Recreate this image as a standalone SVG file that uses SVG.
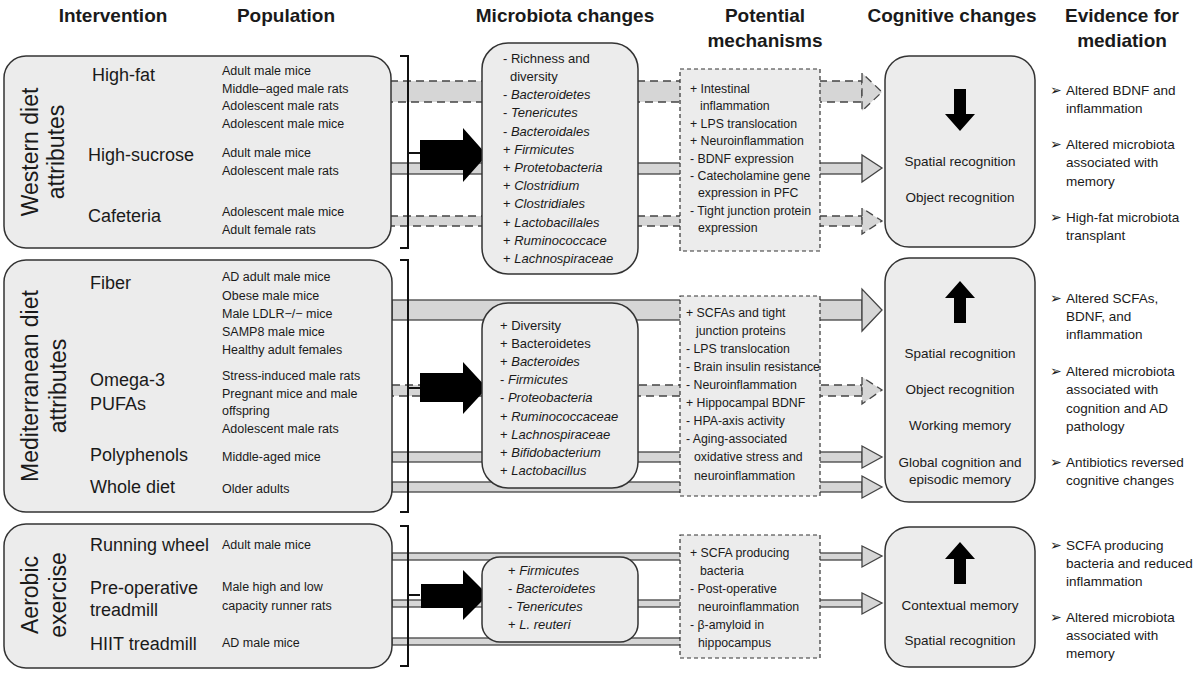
<svg xmlns="http://www.w3.org/2000/svg" width="1200" height="675" viewBox="0 0 1200 675">
<style>
text{font-family:"Liberation Sans",Arial,sans-serif;fill:#1a1a1a}
.h{font-size:19px;font-weight:bold;text-anchor:middle}
.iv{font-size:18px}
.pop{font-size:12.5px}
.rot{font-size:23px;text-anchor:middle}
.mt{font-size:13px}
.mc{font-size:12.3px}
.i{font-style:italic}
.cg{font-size:13.5px;text-anchor:middle}
.ev{font-size:13.5px}
.box{fill:#ececec;stroke:#333;stroke-width:1.5}
.mech{fill:#ececec;stroke:#333;stroke-width:1.2;stroke-dasharray:4 3}
.band{fill:#d6d6d6;stroke:#444;stroke-width:1.3}
.dash{stroke-dasharray:8 5}
.br{fill:none;stroke:#111;stroke-width:2}
.blk{fill:#000}
</style>
<g id="headers">
<text class="h" x="113" y="22">Intervention</text>
<text class="h" x="286" y="22">Population</text>
<text class="h" x="565" y="22">Microbiota changes</text>
<text class="h" x="765" y="22">Potential</text>
<text class="h" x="765" y="47">mechanisms</text>
<text class="h" x="952" y="22">Cognitive changes</text>
<text class="h" x="1122" y="22">Evidence for</text>
<text class="h" x="1122" y="47">mediation</text>
</g>
<g id="connectors">
<rect class="band dash" x="390" y="81" width="472" height="21"/>
<polygon class="band dash" points="862,81 862,73 882,92 862,111 862,102"/>
<rect class="band" x="390" y="163" width="472" height="11"/>
<polygon class="band" points="862,163 862,155 882,168 862,182 862,174"/>
<rect class="band dash" x="390" y="216" width="472" height="10"/>
<polygon class="band dash" points="862,216 862,208 882,221 862,234 862,226"/>
<rect class="band" x="392" y="300" width="470" height="20"/>
<polygon class="band" points="862,300 862,289 882,310 862,331 862,320"/>
<rect class="band dash" x="392" y="385" width="470" height="11"/>
<polygon class="band dash" points="862,385 862,377 882,390 862,404 862,396"/>
<rect class="band" x="392" y="452" width="470" height="10"/>
<polygon class="band" points="862,452 862,446 882,457 862,468 862,462"/>
<rect class="band" x="392" y="482" width="470" height="10"/>
<polygon class="band" points="862,482 862,476 882,487 862,498 862,492"/>
<rect class="band" x="392" y="553" width="470" height="7"/>
<polygon class="band" points="862,553 862,546 882,556 862,567 862,560"/>
<rect class="band" x="392" y="600" width="470" height="7"/>
<polygon class="band" points="862,600 862,593 882,603 862,614 862,607"/>
<rect class="band" x="392" y="638" width="300" height="7"/>
<path class="br" d="M400,56 H408 V248 H400 M408,153 H420"/>
<path class="br" d="M400,260 H408 V512 H400 M408,388 H420"/>
<path class="br" d="M400,526 H408 V666 H400 M408,595 H420"/>
<polygon class="blk" points="420,140 463,140 463,128 487,155 463,182 463,170 420,170"/>
<polygon class="blk" points="420,373 463,373 463,362 487,388 463,414 463,402 420,402"/>
<polygon class="blk" points="421,584 463,584 463,570 488,595 463,620 463,608 421,608"/>
</g>
<g id="western">
<rect class="box" x="4" y="56" width="387" height="192" rx="22"/>
<text class="rot" transform="translate(38,152) rotate(-90)">Western diet</text>
<text class="rot" transform="translate(64,152) rotate(-90)">attributes</text>
<text class="iv" x="92" y="81">High-fat</text>
<text class="iv" x="88" y="161">High-sucrose</text>
<text class="iv" x="88" y="222">Cafeteria</text>
<text class="pop" x="222" y="75">Adult male mice</text>
<text class="pop" x="222" y="93">Middle–aged male rats</text>
<text class="pop" x="222" y="110">Adolescent male rats</text>
<text class="pop" x="222" y="128">Adolescent male mice</text>
<text class="pop" x="222" y="157">Adult male mice</text>
<text class="pop" x="222" y="175">Adolescent male rats</text>
<text class="pop" x="222" y="216">Adolescent male mice</text>
<text class="pop" x="222" y="234">Adult female rats</text>
</g>
<g id="mediterranean">
<rect class="box" x="4" y="260" width="388" height="252" rx="22"/>
<text class="rot" transform="translate(38,386) rotate(-90)">Mediterranean diet</text>
<text class="rot" transform="translate(66,386) rotate(-90)">attributes</text>
<text class="iv" x="90" y="289">Fiber</text>
<text class="iv" x="90" y="386">Omega-3</text>
<text class="iv" x="90" y="410">PUFAs</text>
<text class="iv" x="90" y="461">Polyphenols</text>
<text class="iv" x="90" y="493">Whole diet</text>
<text class="pop" x="222" y="281">AD adult male mice</text>
<text class="pop" x="222" y="300">Obese male mice</text>
<text class="pop" x="222" y="318">Male LDLR−/− mice</text>
<text class="pop" x="222" y="336">SAMP8 male mice</text>
<text class="pop" x="222" y="354">Healthy adult females</text>
<text class="pop" x="222" y="380">Stress-induced male rats</text>
<text class="pop" x="222" y="398">Pregnant mice and male</text>
<text class="pop" x="222" y="415">offspring</text>
<text class="pop" x="222" y="433">Adolescent male rats</text>
<text class="pop" x="222" y="461">Middle-aged mice</text>
<text class="pop" x="222" y="493">Older adults</text>
</g>
<g id="aerobic">
<rect class="box" x="4" y="524" width="388" height="144" rx="22"/>
<text class="rot" transform="translate(38,595) rotate(-90)">Aerobic</text>
<text class="rot" transform="translate(66,595) rotate(-90)">exercise</text>
<text class="iv" x="90" y="551">Running wheel</text>
<text class="iv" x="90" y="594">Pre-operative</text>
<text class="iv" x="90" y="616">treadmill</text>
<text class="iv" x="90" y="650">HIIT treadmill</text>
<text class="pop" x="222" y="549">Adult male mice</text>
<text class="pop" x="222" y="591">Male high and low</text>
<text class="pop" x="222" y="610">capacity runner rats</text>
<text class="pop" x="222" y="647">AD male mice</text>
</g>
<g id="microbiota1">
<rect class="box" x="482" y="43" width="156" height="231" rx="26"/>
<text class="mt" x="503" y="63">- Richness and</text>
<text class="mt" x="510" y="81">diversity</text>
<text class="mt" x="503" y="99">- <tspan class="i">Bacteroidetes</tspan></text>
<text class="mt" x="503" y="117">- <tspan class="i">Tenericutes</tspan></text>
<text class="mt" x="503" y="136">- <tspan class="i">Bacteroidales</tspan></text>
<text class="mt" x="503" y="154">+ <tspan class="i">Firmicutes</tspan></text>
<text class="mt" x="503" y="172">+ <tspan class="i">Protetobacteria</tspan></text>
<text class="mt" x="503" y="190">+ <tspan class="i">Clostridium</tspan></text>
<text class="mt" x="503" y="208">+ <tspan class="i">Clostridiales</tspan></text>
<text class="mt" x="503" y="227">+ <tspan class="i">Lactobacillales</tspan></text>
<text class="mt" x="503" y="245">+ <tspan class="i">Ruminococcace</tspan></text>
<text class="mt" x="503" y="263">+ <tspan class="i">Lachnospiraceae</tspan></text>
</g>
<g id="mechanism1">
<rect class="mech" x="680" y="69" width="140" height="182"/>
<text class="mc" x="690" y="93">+ Intestinal</text>
<text class="mc" x="700" y="110">inflammation</text>
<text class="mc" x="690" y="128">+ LPS translocation</text>
<text class="mc" x="690" y="145">+ Neuroinflammation</text>
<text class="mc" x="690" y="163">- BDNF expression</text>
<text class="mc" x="690" y="180">- Catecholamine gene</text>
<text class="mc" x="698" y="197">expression in PFC</text>
<text class="mc" x="690" y="215">- Tight junction protein</text>
<text class="mc" x="698" y="232">expression</text>
</g>
<g id="cognitive1">
<rect class="box" x="885" y="56" width="150" height="191" rx="24"/>
<polygon class="blk" points="954,89 966,89 966,114 975,114 960,131 945,114 954,114"/>
<text class="cg" x="960" y="166">Spatial recognition</text>
<text class="cg" x="960" y="202">Object recognition</text>
</g>
<g id="microbiota2">
<rect class="box" x="482" y="303" width="156" height="185" rx="26"/>
<text class="mt" x="500" y="330">+ Diversity</text>
<text class="mt" x="500" y="348">+ Bacteroidetes</text>
<text class="mt" x="500" y="366">+ <tspan class="i">Bacteroides</tspan></text>
<text class="mt" x="500" y="384">- <tspan class="i">Firmicutes</tspan></text>
<text class="mt" x="500" y="402">- <tspan class="i">Proteobacteria</tspan></text>
<text class="mt" x="500" y="421">+ <tspan class="i">Ruminococcaceae</tspan></text>
<text class="mt" x="500" y="439">+ <tspan class="i">Lachnospiraceae</tspan></text>
<text class="mt" x="500" y="457">+ <tspan class="i">Bifidobacterium</tspan></text>
<text class="mt" x="500" y="475">+ <tspan class="i">Lactobacillus</tspan></text>
</g>
<g id="mechanism2">
<rect class="mech" x="680" y="296" width="140" height="200"/>
<text class="mc" x="686" y="317">+ SCFAs and tight</text>
<text class="mc" x="696" y="335">junction proteins</text>
<text class="mc" x="686" y="353">- LPS translocation</text>
<text class="mc" x="686" y="371">- Brain insulin resistance</text>
<text class="mc" x="686" y="389">- Neuroinflammation</text>
<text class="mc" x="686" y="407">+ Hippocampal BDNF</text>
<text class="mc" x="686" y="425">- HPA-axis activity</text>
<text class="mc" x="686" y="443">- Aging-associated</text>
<text class="mc" x="694" y="461">oxidative stress and</text>
<text class="mc" x="694" y="480">neuroinflammation</text>
</g>
<g id="cognitive2">
<rect class="box" x="885" y="258" width="150" height="244" rx="24"/>
<polygon class="blk" points="954,323 966,323 966,298 975,298 960,281 945,298 954,298"/>
<text class="cg" x="960" y="358">Spatial recognition</text>
<text class="cg" x="960" y="394">Object recognition</text>
<text class="cg" x="960" y="430">Working memory</text>
<text class="cg" x="960" y="467">Global cognition and</text>
<text class="cg" x="960" y="484">episodic memory</text>
</g>
<g id="microbiota3">
<rect class="box" x="482" y="557" width="156" height="85" rx="18"/>
<text class="mt" x="508" y="575">+ <tspan class="i">Firmicutes</tspan></text>
<text class="mt" x="508" y="593">- <tspan class="i">Bacteroidetes</tspan></text>
<text class="mt" x="508" y="611">- <tspan class="i">Tenericutes</tspan></text>
<text class="mt" x="508" y="629">+ <tspan class="i">L. reuteri</tspan></text>
</g>
<g id="mechanism3">
<rect class="mech" x="680" y="535" width="140" height="123"/>
<text class="mc" x="690" y="557">+ SCFA producing</text>
<text class="mc" x="700" y="575">bacteria</text>
<text class="mc" x="690" y="593">- Post-operative</text>
<text class="mc" x="698" y="611">neuroinflammation</text>
<text class="mc" x="690" y="629">- β-amyloid in</text>
<text class="mc" x="698" y="647">hippocampus</text>
</g>
<g id="cognitive3">
<rect class="box" x="885" y="527" width="150" height="140" rx="24"/>
<polygon class="blk" points="954,584 966,584 966,559 975,559 960,542 945,559 954,559"/>
<text class="cg" x="960" y="610">Contextual memory</text>
<text class="cg" x="960" y="645">Spatial recognition</text>
</g>
<g id="evidence">
<text class="ev" x="1050" y="95">➢</text>
<text class="ev" x="1066" y="95">Altered BDNF and</text>
<text class="ev" x="1066" y="113">inflammation</text>
<text class="ev" x="1050" y="149">➢</text>
<text class="ev" x="1066" y="149">Altered microbiota</text>
<text class="ev" x="1066" y="167">associated with</text>
<text class="ev" x="1066" y="186">memory</text>
<text class="ev" x="1050" y="222">➢</text>
<text class="ev" x="1066" y="222">High-fat microbiota</text>
<text class="ev" x="1066" y="240">transplant</text>
<text class="ev" x="1050" y="303">➢</text>
<text class="ev" x="1066" y="303">Altered SCFAs,</text>
<text class="ev" x="1066" y="321">BDNF, and</text>
<text class="ev" x="1066" y="339">inflammation</text>
<text class="ev" x="1050" y="376">➢</text>
<text class="ev" x="1066" y="376">Altered microbiota</text>
<text class="ev" x="1066" y="394">associated with</text>
<text class="ev" x="1066" y="413">cognition and AD</text>
<text class="ev" x="1066" y="431">pathology</text>
<text class="ev" x="1050" y="467">➢</text>
<text class="ev" x="1066" y="467">Antibiotics reversed</text>
<text class="ev" x="1066" y="485">cognitive changes</text>
<text class="ev" x="1050" y="550">➢</text>
<text class="ev" x="1066" y="550">SCFA producing</text>
<text class="ev" x="1066" y="568">bacteria and reduced</text>
<text class="ev" x="1066" y="586">inflammation</text>
<text class="ev" x="1050" y="622">➢</text>
<text class="ev" x="1066" y="622">Altered microbiota</text>
<text class="ev" x="1066" y="640">associated with</text>
<text class="ev" x="1066" y="658">memory</text>
</g>
</svg>
